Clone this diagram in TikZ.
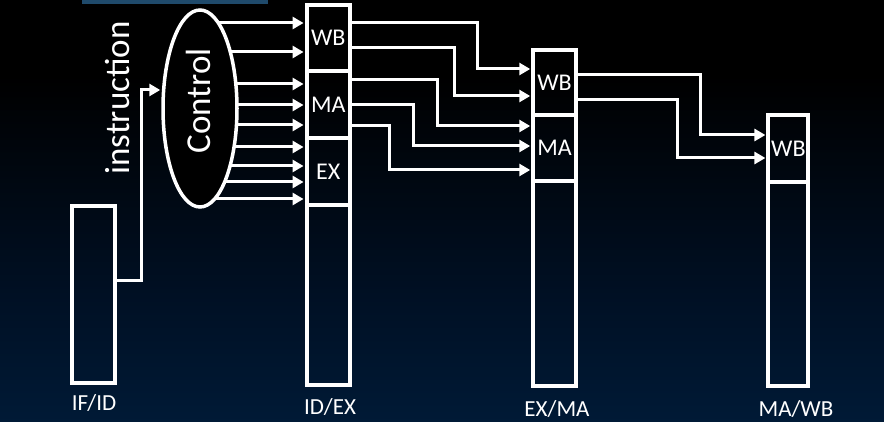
\documentclass[tikz,border=0pt]{standalone}
\usepackage{fontspec}
\setmainfont{Carlito}
\usetikzlibrary{arrows.meta,shapes.geometric}
\pgfdeclarelayer{bg}
\pgfdeclarelayer{wires}
\pgfsetlayers{bg,wires,main}
\definecolor{navybot}{RGB}{0,42,84}
\definecolor{navymid}{RGB}{0,16,36}
\definecolor{tabblue}{RGB}{31,74,107}
\pgfdeclareverticalshading{bgshade}{100bp}{color(0bp)=(navybot); color(40bp)=(navymid); color(66bp)=(black); color(100bp)=(black)}
\begin{document}
\begin{tikzpicture}[x=1pt,y=-1pt,
  reg/.style={draw=white, line width=4pt, inner sep=0pt, text=white,
    font=\fontsize{24}{28}\selectfont},
  wire/.style={draw=white, line width=3pt, shorten >=1pt,
    -{Triangle[length=11pt,width=12pt]}},
  lbl/.style={text=white, font=\fontsize{23}{27}\selectfont, anchor=base, inner sep=0pt},
  big/.style={text=white, font=\fontsize{35}{40}\selectfont, rotate=90, inner sep=0pt}]
\useasboundingbox (0,0) rectangle (884,422);
\begin{pgfonlayer}{bg}
  \fill[shading=bgshade] (0,0) rectangle (884,422);
  \fill[tabblue] (82,-2) rectangle (268,4);
\end{pgfonlayer}

% registers
\node[reg, minimum width=43pt, minimum height=177pt] (ifid) at (93.5,294.5) {};
\node[reg, minimum width=43.5pt, minimum height=66.5pt] (idwb) at (328.3,38.25) {WB};
\node[reg, minimum width=43.5pt, minimum height=67pt] (idma) at (328.3,105) {MA};
\node[reg, minimum width=43.5pt, minimum height=66.5pt] (idex) at (328.3,171.75) {EX};
\node[reg, minimum width=43.5pt, minimum height=180pt] (idlo) at (328.3,295) {};
\node[reg, minimum width=42.5pt, minimum height=65pt] (exwb) at (554.5,82.5) {WB};
\node[reg, minimum width=42.5pt, minimum height=66pt] (exma) at (554.5,148) {MA};
\node[reg, minimum width=42.5pt, minimum height=205pt] (exlo) at (554.5,283.5) {};
\node[reg, minimum width=40pt, minimum height=67pt] (mwwb) at (788.4,148.5) {WB};
\node[reg, minimum width=40pt, minimum height=204pt] (mwlo) at (788.4,284) {};

% control unit
\node[draw=white, line width=3.5pt, fill=black, ellipse, minimum width=74pt,
  minimum height=197pt, inner sep=0pt] (ctrl) at (200,108.5) {};
\node[big] (ctrltext) at (198,101) {Control};
\node[big] (instr) at (118,98) {instruction};

% stage labels
\node[lbl] (lifid) at (94,410) {IF/ID};
\node[lbl] (lidex) at (330,414) {ID/EX};
\node[lbl] (lexma) at (557,416) {EX/MA};
\node[lbl] (lmawb) at (796,416) {MA/WB};

\begin{pgfonlayer}{wires}
  \draw[wire] (ifid.east |- 0,281) -| (141,90) -- (ctrl.west |- 0,90);
  \foreach \yy in {23,52,84,105,125,147,166,182,199}
    \draw[wire] (ctrl.center |- 0,\yy) -- (idwb.west |- 0,\yy);
  \draw[wire] (idwb.east |- 0,23) -| (477,69) -- (exwb.west |- 0,69);
  \draw[wire] (idwb.east |- 0,48) -| (454,96) -- (exwb.west |- 0,96);
  \draw[wire] (idma.east |- 0,80) -| (437,126) -- (exma.west |- 0,126);
  \draw[wire] (idma.east |- 0,105) -| (413,146) -- (exma.west |- 0,146);
  \draw[wire] (idma.east |- 0,126) -| (389,170) -- (exma.west |- 0,170);
  \draw[wire] (exwb.east |- 0,75) -| (700,135) -- (mwwb.west |- 0,135);
  \draw[wire] (exwb.east |- 0,100) -| (677,158) -- (mwwb.west |- 0,158);
\end{pgfonlayer}
\end{tikzpicture}
\end{document}
